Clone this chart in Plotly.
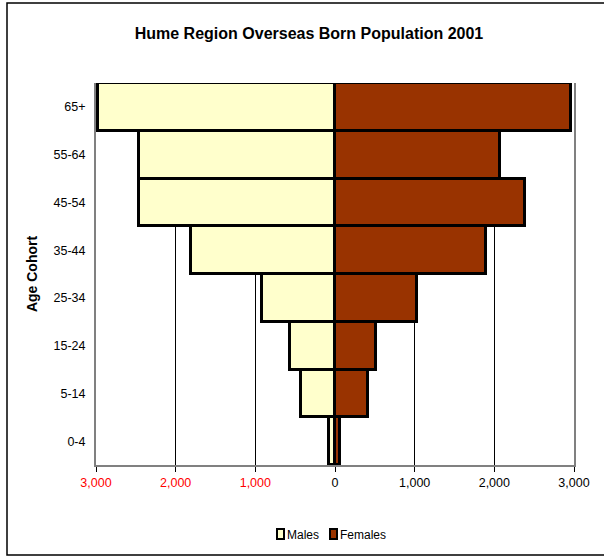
import plotly.graph_objects as go

# Age cohorts, bottom to top
age_groups = ["0-4", "5-14", "15-24", "25-34", "35-44", "45-54", "55-64", "65+"]
males = [75, 430, 570, 920, 1810, 2460, 2460, 2980]
females = [65, 420, 515, 1030, 1895, 2390, 2065, 2960]

tick_vals = [-3000, -2000, -1000, 0, 1000, 2000, 3000]
tick_text = ['<span style="color:#ff0000">3,000</span>',
             '<span style="color:#ff0000">2,000</span>',
             '<span style="color:#ff0000">1,000</span>',
             "0", "1,000", "2,000", "3,000"]

series_names = ["Males", "Females"]
series_colors = ["#FFFFCC", "#993300"]

FONT = "Liberation Sans, Arial, sans-serif"
W, H = 604, 556
L, R, T, B = 96, 30, 83, 91
pw, ph = W - L - R, H - T - B


def px_x(x):
    return (x - L) / pw


def px_y(y):
    return (H - B - y) / ph


fig = go.Figure()
fig.add_trace(go.Bar(
    y=age_groups, x=[-v for v in males], name=series_names[0], orientation="h",
    marker=dict(color=series_colors[0], line=dict(color="#000000", width=3)),
    showlegend=False,
))
fig.add_trace(go.Bar(
    y=age_groups, x=females, name=series_names[1], orientation="h",
    marker=dict(color=series_colors[1], line=dict(color="#000000", width=3)),
    showlegend=False,
))

# compact legend drawn as small swatches with labels beside them
shapes = [dict(type="rect", xref="paper", yref="paper",
               x0=px_x(7), x1=px_x(610), y0=px_y(555), y1=px_y(3),
               line=dict(color="#000000", width=1.5), fillcolor="rgba(0,0,0,0)",
               layer="below")]
annotations = []
legend_x = [277, 330]
for name, color, lx in zip(series_names, series_colors, legend_x):
    shapes.append(dict(type="rect", xref="paper", yref="paper",
                       x0=px_x(lx), x1=px_x(lx + 7), y0=px_y(539), y1=px_y(529),
                       line=dict(color="#000000", width=2), fillcolor=color))
    annotations.append(dict(text=name, xref="paper", yref="paper",
                            x=px_x(lx + 8), y=px_y(535), xanchor="left",
                            yanchor="middle", showarrow=False,
                            font=dict(size=12, color="#000000")))

fig.update_layout(
    width=W, height=H,
    margin=dict(l=L, r=R, t=T, b=B, pad=0),
    paper_bgcolor="white", plot_bgcolor="white",
    barmode="relative", bargap=0,
    font=dict(family=FONT, size=12, color="#000000"),
    title=dict(text="<b>Hume Region Overseas Born Population 2001</b>",
               x=px_x(309), xref="paper", xanchor="center",
               y=1 - 33 / H, yanchor="middle",
               font=dict(family=FONT, size=16, color="#000000")),
    xaxis=dict(range=[-3000, 3000], tickvals=tick_vals, ticktext=tick_text,
               showgrid=True, gridcolor="#000000", gridwidth=1,
               zeroline=False, showline=True, linecolor="#808080", linewidth=2,
               mirror=False, ticks="outside", ticklen=5, tickcolor="#000000",
               tickfont=dict(size=12.5)),
    yaxis=dict(title=dict(text="<b>Age Cohort</b>", font=dict(size=14), standoff=13),
               showgrid=False, zeroline=False, showline=True, linecolor="#808080",
               linewidth=2, mirror=True, ticks="", ticklabelstandoff=6,
               tickfont=dict(size=12.5)),
    showlegend=False,
    shapes=shapes,
    annotations=annotations,
)

fig.write_html("out.html")
